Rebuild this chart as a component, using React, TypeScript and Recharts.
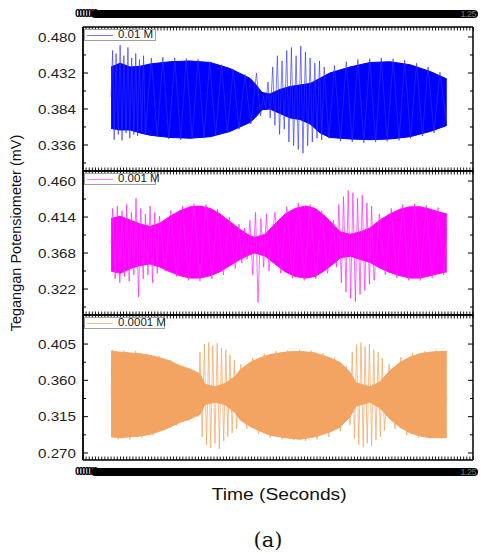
import React from 'react';
import { ComposedChart, Area, Line, XAxis, YAxis, Legend } from 'recharts';

// ---------- shared axis ticks ----------
const TIME_TICKS: number[] = Array.from({ length: 126 }, (_, i) => +(i * 0.01).toFixed(2));
const TIME_BAR_START = '0000000';
const TIME_BAR_END = '1.25';

const P1_MAJOR = [0.336, 0.384, 0.432, 0.48];
const P1_MINOR = [0.312, 0.36, 0.408, 0.456];
const P2_MAJOR = [0.322, 0.368, 0.414, 0.46];
const P2_MINOR = [0.299, 0.345, 0.391, 0.437];
const P3_MAJOR = [0.27, 0.315, 0.36, 0.405];
const P3_MINOR = [0.2925, 0.3375, 0.3825, 0.4275];

// ---------- 0.01 M (blue) ----------
const B_ENV_T = [0.090, 0.119, 0.151, 0.183, 0.215, 0.279, 0.343, 0.408, 0.471, 0.535, 0.551, 0.574, 0.599, 0.631, 0.664, 0.695, 0.728, 0.760, 0.791, 0.856, 0.920, 0.984, 1.048, 1.113, 1.166];
const B_ENV_HI = [0.440, 0.445, 0.440, 0.441, 0.444, 0.447, 0.448, 0.446, 0.438, 0.425, 0.418, 0.406, 0.404, 0.410, 0.414, 0.416, 0.418, 0.425, 0.432, 0.440, 0.446, 0.447, 0.443, 0.434, 0.424];
const B_ENV_LO = [0.358, 0.356, 0.356, 0.352, 0.349, 0.346, 0.345, 0.347, 0.354, 0.366, 0.372, 0.383, 0.384, 0.378, 0.372, 0.370, 0.364, 0.352, 0.346, 0.344, 0.343, 0.344, 0.347, 0.354, 0.362];
const B_ZZ_T = [0.090, 0.095, 0.100, 0.106, 0.113, 0.119, 0.125, 0.131, 0.138, 0.144, 0.150, 0.156, 0.163, 0.169, 0.175, 0.181, 0.188, 0.194, 0.200, 0.219, 0.238, 0.256, 0.275, 0.294, 0.313, 0.331, 0.350, 0.369, 0.388, 0.406, 0.425, 0.444, 0.463, 0.481, 0.500, 0.519, 0.538, 0.556, 0.569, 0.578, 0.585, 0.593, 0.600, 0.608, 0.615, 0.623, 0.630, 0.638, 0.645, 0.653, 0.660, 0.668, 0.675, 0.683, 0.690, 0.698, 0.705, 0.713, 0.720, 0.728, 0.735, 0.743, 0.750, 0.758, 0.765, 0.773, 0.788, 0.806, 0.825, 0.844, 0.863, 0.881, 0.900, 0.919, 0.938, 0.956, 0.975, 0.994, 1.013, 1.031, 1.050, 1.069, 1.088, 1.106, 1.125, 1.144, 1.166];
const B_ZZ_V = [0.400, 0.462, 0.343, 0.458, 0.350, 0.469, 0.342, 0.455, 0.352, 0.466, 0.345, 0.452, 0.350, 0.458, 0.348, 0.450, 0.354, 0.455, 0.350, 0.452, 0.347, 0.453, 0.344, 0.452, 0.343, 0.451, 0.344, 0.450, 0.345, 0.447, 0.348, 0.443, 0.352, 0.437, 0.357, 0.430, 0.364, 0.432, 0.375, 0.402, 0.385, 0.420, 0.372, 0.440, 0.362, 0.455, 0.350, 0.448, 0.357, 0.462, 0.340, 0.466, 0.335, 0.455, 0.330, 0.468, 0.325, 0.460, 0.335, 0.452, 0.340, 0.445, 0.345, 0.448, 0.343, 0.440, 0.345, 0.442, 0.341, 0.447, 0.340, 0.450, 0.339, 0.451, 0.340, 0.452, 0.341, 0.451, 0.342, 0.449, 0.345, 0.445, 0.348, 0.440, 0.352, 0.433, 0.362];

// ---------- 0.001 M (magenta) ----------
const M_ENV_T = [0.090, 0.119, 0.151, 0.183, 0.215, 0.246, 0.279, 0.311, 0.343, 0.375, 0.408, 0.439, 0.471, 0.504, 0.535, 0.551, 0.584, 0.615, 0.648, 0.680, 0.713, 0.744, 0.776, 0.808, 0.825, 0.856, 0.888, 0.920, 0.951, 0.984, 1.016, 1.048, 1.080, 1.113, 1.144, 1.166];
const M_ENV_HI = [0.412, 0.415, 0.410, 0.405, 0.402, 0.406, 0.415, 0.422, 0.427, 0.428, 0.425, 0.418, 0.408, 0.398, 0.390, 0.388, 0.392, 0.405, 0.418, 0.425, 0.428, 0.425, 0.415, 0.402, 0.395, 0.392, 0.395, 0.400, 0.410, 0.418, 0.424, 0.427, 0.427, 0.424, 0.420, 0.418];
const M_ENV_LO = [0.345, 0.342, 0.348, 0.352, 0.354, 0.350, 0.344, 0.339, 0.336, 0.336, 0.339, 0.344, 0.352, 0.360, 0.366, 0.368, 0.364, 0.354, 0.344, 0.338, 0.336, 0.338, 0.346, 0.356, 0.362, 0.364, 0.360, 0.356, 0.349, 0.343, 0.339, 0.336, 0.336, 0.339, 0.342, 0.344];
const M_ZZ_T = [0.090, 0.095, 0.103, 0.110, 0.118, 0.125, 0.133, 0.140, 0.148, 0.155, 0.163, 0.170, 0.178, 0.185, 0.193, 0.200, 0.208, 0.215, 0.223, 0.230, 0.238, 0.245, 0.263, 0.281, 0.300, 0.319, 0.338, 0.356, 0.375, 0.394, 0.413, 0.431, 0.450, 0.469, 0.488, 0.500, 0.509, 0.518, 0.526, 0.535, 0.544, 0.553, 0.561, 0.570, 0.579, 0.588, 0.596, 0.615, 0.634, 0.653, 0.671, 0.690, 0.709, 0.728, 0.746, 0.765, 0.784, 0.803, 0.813, 0.820, 0.828, 0.835, 0.843, 0.850, 0.858, 0.865, 0.873, 0.880, 0.888, 0.895, 0.903, 0.910, 0.918, 0.925, 0.933, 0.950, 0.969, 0.988, 1.006, 1.025, 1.044, 1.063, 1.081, 1.100, 1.119, 1.138, 1.156, 1.166];
const M_ZZ_V = [0.380, 0.425, 0.335, 0.428, 0.330, 0.422, 0.338, 0.430, 0.332, 0.420, 0.340, 0.438, 0.312, 0.425, 0.335, 0.418, 0.340, 0.428, 0.330, 0.420, 0.342, 0.415, 0.345, 0.422, 0.338, 0.428, 0.333, 0.431, 0.332, 0.430, 0.335, 0.424, 0.340, 0.414, 0.348, 0.405, 0.355, 0.400, 0.360, 0.410, 0.340, 0.420, 0.305, 0.412, 0.350, 0.418, 0.345, 0.420, 0.342, 0.427, 0.336, 0.432, 0.333, 0.430, 0.335, 0.422, 0.342, 0.410, 0.350, 0.430, 0.330, 0.440, 0.318, 0.448, 0.310, 0.445, 0.306, 0.438, 0.315, 0.442, 0.320, 0.432, 0.328, 0.428, 0.333, 0.418, 0.340, 0.425, 0.336, 0.430, 0.333, 0.431, 0.333, 0.429, 0.336, 0.426, 0.340, 0.400];

// ---------- 0.0001 M (orange) ----------
const O_ENV_T = [0.090, 0.119, 0.151, 0.183, 0.215, 0.246, 0.279, 0.311, 0.343, 0.375, 0.391, 0.424, 0.455, 0.488, 0.504, 0.535, 0.568, 0.600, 0.648, 0.695, 0.744, 0.791, 0.824, 0.856, 0.875, 0.920, 0.951, 0.984, 1.016, 1.048, 1.080, 1.113, 1.166];
const O_ENV_HI = [0.396, 0.395, 0.394, 0.393, 0.391, 0.388, 0.384, 0.378, 0.374, 0.368, 0.355, 0.352, 0.356, 0.365, 0.373, 0.382, 0.388, 0.392, 0.395, 0.396, 0.394, 0.388, 0.382, 0.370, 0.357, 0.352, 0.358, 0.372, 0.382, 0.389, 0.393, 0.395, 0.396];
const O_ENV_LO = [0.290, 0.289, 0.290, 0.291, 0.293, 0.297, 0.302, 0.308, 0.312, 0.318, 0.330, 0.333, 0.330, 0.320, 0.311, 0.303, 0.297, 0.292, 0.289, 0.287, 0.290, 0.296, 0.302, 0.315, 0.328, 0.333, 0.326, 0.312, 0.302, 0.295, 0.291, 0.289, 0.289];
const O_ZZ_T = [0.090, 0.094, 0.113, 0.131, 0.150, 0.169, 0.188, 0.206, 0.225, 0.244, 0.263, 0.281, 0.300, 0.319, 0.338, 0.356, 0.369, 0.375, 0.382, 0.389, 0.396, 0.403, 0.409, 0.416, 0.423, 0.430, 0.437, 0.444, 0.451, 0.458, 0.464, 0.471, 0.478, 0.485, 0.492, 0.506, 0.525, 0.544, 0.563, 0.581, 0.600, 0.619, 0.638, 0.656, 0.675, 0.694, 0.713, 0.731, 0.750, 0.769, 0.788, 0.806, 0.825, 0.844, 0.856, 0.863, 0.870, 0.877, 0.884, 0.891, 0.898, 0.904, 0.911, 0.918, 0.925, 0.932, 0.939, 0.946, 0.953, 0.959, 0.966, 0.981, 1.000, 1.019, 1.038, 1.056, 1.075, 1.094, 1.113, 1.131, 1.150, 1.166];
const O_ZZ_V = [0.340, 0.398, 0.287, 0.397, 0.287, 0.396, 0.289, 0.393, 0.292, 0.390, 0.298, 0.385, 0.304, 0.378, 0.310, 0.372, 0.315, 0.395, 0.290, 0.405, 0.280, 0.407, 0.276, 0.403, 0.282, 0.406, 0.275, 0.400, 0.285, 0.398, 0.290, 0.392, 0.295, 0.385, 0.300, 0.380, 0.300, 0.388, 0.294, 0.393, 0.289, 0.396, 0.287, 0.397, 0.286, 0.398, 0.285, 0.397, 0.287, 0.394, 0.290, 0.388, 0.297, 0.378, 0.305, 0.395, 0.288, 0.404, 0.280, 0.407, 0.277, 0.402, 0.282, 0.405, 0.279, 0.398, 0.286, 0.395, 0.290, 0.388, 0.298, 0.380, 0.300, 0.389, 0.292, 0.394, 0.289, 0.396, 0.288, 0.397, 0.288, 0.340];

// ---------- styling ----------
const FONT = '"Liberation Sans", Arial, Helvetica, sans-serif';
const W = 481;
const H = 554;

const buildEnv = (t: number[], hi: number[], lo: number[]) => t.map((x, i) => ({ t: x, r: [lo[i], hi[i]] }));
const buildZz = (t: number[], v: number[]) => t.map((x, i) => ({ t: x, v: v[i] }));

type Panel = {
  top: number; bottom: number; fill: string; stroke: string; strokeOpacity: number; legendColor: string;
  label: string; legendW: number; domain: [number, number]; major: number[]; minor: number[];
  env: any[]; zz: any[];
};

const PANELS: Panel[] = [
  { top: 27, bottom: 171, fill: '#0000ff', stroke: '#3030ff', strokeOpacity: 0.8, legendColor: '#7a7aff', label: '0.01 M', legendW: 72,
    domain: [0.3013, 0.4933], major: P1_MAJOR, minor: P1_MINOR, env: buildEnv(B_ENV_T, B_ENV_HI, B_ENV_LO), zz: buildZz(B_ZZ_T, B_ZZ_V) },
  { top: 171, bottom: 315, fill: '#ff00ff', stroke: '#ff20ff', strokeOpacity: 0.85, legendColor: '#ff80ff', label: '0.001 M', legendW: 72,
    domain: [0.2888, 0.4728], major: P2_MAJOR, minor: P2_MINOR, env: buildEnv(M_ENV_T, M_ENV_HI, M_ENV_LO), zz: buildZz(M_ZZ_T, M_ZZ_V) },
  { top: 315, bottom: 460, fill: '#f4a462', stroke: '#f4a462', strokeOpacity: 0.9, legendColor: '#f6b98a', label: '0.0001 M', legendW: 81,
    domain: [0.2613, 0.441], major: P3_MAJOR, minor: P3_MINOR, env: buildEnv(O_ENV_T, O_ENV_HI, O_ENV_LO), zz: buildZz(O_ZZ_T, O_ZZ_V) },
];

const TopTick = (props: any) => {
  const { x, y } = props;
  return <line x1={x} y1={y} x2={x} y2={y + 3.5} stroke="#000" strokeWidth={0.9} />;
};

const BottomTick = (props: any) => {
  const { x, y } = props;
  return <line x1={x} y1={y} x2={x} y2={y - 3.5} stroke="#000" strokeWidth={0.9} />;
};

const LeftTick = (props: any) => {
  const { x, y, payload, majors } = props;
  const isMajor = majors.includes(payload.value);
  return (
    <g>
      <line x1={x} y1={y} x2={x + (isMajor ? 5 : 3)} y2={y} stroke="#000" strokeWidth={1} />
      {isMajor && (
        <text x={x - 7} y={y} dy="0.36em" textAnchor="end" fontSize={13} fontFamily={FONT} fill="#222"
          textLength={38} lengthAdjust="spacingAndGlyphs">
          {Number(payload.value).toFixed(3)}
        </text>
      )}
    </g>
  );
};

const RightTick = (props: any) => {
  const { x, y, payload, majors } = props;
  const isMajor = majors.includes(payload.value);
  return <line x1={x} y1={y} x2={x - (isMajor ? 5 : 3)} y2={y} stroke="#000" strokeWidth={1} />;
};

const LegendBox = ({ label, color, width }: { label: string; color: string; width: number }) => (
  <div style={{ display: 'flex', alignItems: 'center', width, height: 12, border: '1px solid #a0a0a0', background: '#fff',
    fontFamily: FONT, fontSize: 10, lineHeight: '12px', boxSizing: 'border-box', paddingLeft: 2, color: '#222' }}>
    <span style={{ display: 'inline-block', width: 26, height: 1, background: color, marginRight: 5, flex: 'none' }} />
    <span style={{ display: 'inline-block', transform: 'scaleX(1.15)', transformOrigin: 'left center', whiteSpace: 'nowrap' }}>{label}</span>
  </div>
);

// squashed time-axis label band (the labels overprint into a solid strip)
const TimeBar = ({ top }: { top: number }) => (
  <div style={{ position: 'absolute', left: 75, top, width: 403, height: 8 }}>
    <div style={{ position: 'absolute', left: 16, top: 0, width: 387, height: 8, background: '#000', borderRadius: 4 }} />
    <span style={{ position: 'absolute', left: 0, top: -1, fontFamily: FONT, fontSize: 10, fontWeight: 700, lineHeight: '10px',
      letterSpacing: -2.6, color: '#000', whiteSpace: 'nowrap' }}>{TIME_BAR_START}</span>
    <span style={{ position: 'absolute', right: 2, top: -1, fontFamily: FONT, fontSize: 9, lineHeight: '10px',
      letterSpacing: -0.5, color: '#777', whiteSpace: 'nowrap' }}>{TIME_BAR_END}</span>
  </div>
);

const AXIS_H = 1;

const PanelChart = ({ p }: { p: Panel }) => {
  const yTicks = [...p.minor, ...p.major].sort((a, b) => a - b);
  return (
    <div style={{ position: 'absolute', left: 0, top: 0 }}>
      <ComposedChart width={W} height={H} margin={{ top: p.top - AXIS_H, bottom: H - p.bottom - AXIS_H, left: 0, right: 0 }}>
        <XAxis xAxisId="b" type="number" dataKey="t" domain={[0, 1.25]} ticks={TIME_TICKS} interval={0}
          orientation="bottom" height={AXIS_H} tickSize={0} tickMargin={0} allowDataOverflow
          axisLine={{ stroke: '#000', strokeWidth: 1.5 }} tick={<BottomTick />} />
        <XAxis xAxisId="t" type="number" dataKey="t" domain={[0, 1.25]} ticks={TIME_TICKS} interval={0}
          orientation="top" height={AXIS_H} tickSize={0} tickMargin={0} allowDataOverflow
          axisLine={{ stroke: '#000', strokeWidth: 1.5 }} tick={<TopTick />} />
        <YAxis yAxisId="l" type="number" domain={p.domain} ticks={yTicks} interval={0} width={83}
          tickSize={0} tickMargin={0} allowDataOverflow axisLine={{ stroke: '#000', strokeWidth: 1.8 }}
          tick={(tp: any) => <LeftTick {...tp} majors={p.major} />} />
        <YAxis yAxisId="r" orientation="right" type="number" domain={p.domain} ticks={yTicks} interval={0} width={8}
          tickSize={0} tickMargin={0} allowDataOverflow axisLine={{ stroke: '#000', strokeWidth: 1.5 }}
          tick={(tp: any) => <RightTick {...tp} majors={p.major} />} />
        <Area xAxisId="b" yAxisId="l" data={p.env} dataKey="r" type="linear" fill={p.fill} fillOpacity={1}
          stroke={p.fill} strokeWidth={1} isAnimationActive={false} dot={false} activeDot={false} />
        <Line xAxisId="b" yAxisId="l" data={p.zz} dataKey="v" type="linear" stroke={p.stroke} strokeOpacity={p.strokeOpacity}
          strokeWidth={0.8} dot={false} activeDot={false} isAnimationActive={false} />
        <Line xAxisId="t" yAxisId="r" data={p.zz} dataKey="v" type="linear" stroke="none" strokeWidth={0}
          dot={false} activeDot={false} isAnimationActive={false} legendType="none" />
        <Legend layout="horizontal" verticalAlign="middle" align="center"
          wrapperStyle={{ top: p.top + 2, left: 84, width: 'auto', height: 'auto', lineHeight: 0 }}
          content={() => <LegendBox label={p.label} color={p.legendColor} width={p.legendW} />} />
      </ComposedChart>
    </div>
  );
};

export default function App() {
  return (
    <div style={{ position: 'absolute', left: 0, top: 0, width: W, height: H, background: '#fff', overflow: 'hidden' }}>
      {PANELS.map((p, i) => <PanelChart key={i} p={p} />)}
      <TimeBar top={10} />
      <TimeBar top={468} />
      <div style={{ position: 'absolute', left: 16 - 110, top: 233 - 9, width: 220, height: 18, textAlign: 'center',
        transform: 'rotate(-90deg)', fontFamily: FONT, fontSize: 14.5, lineHeight: '18px', color: '#111', whiteSpace: 'nowrap' }}>
        Tegangan Potensiometer (mV)
      </div>
      <div style={{ position: 'absolute', left: 179, top: 486, width: 200, height: 18, textAlign: 'center',
        fontFamily: FONT, fontSize: 16, lineHeight: '18px', color: '#111' }}>
        <span style={{ display: 'inline-block', transform: 'scaleX(1.2)' }}>Time (Seconds)</span>
      </div>
      <div style={{ position: 'absolute', left: 218, top: 526, width: 100, height: 28, textAlign: 'center',
        fontFamily: '"DejaVu Serif", "Liberation Serif", serif', fontSize: 21, lineHeight: '28px', color: '#111' }}>
        (a)
      </div>
    </div>
  );
}
